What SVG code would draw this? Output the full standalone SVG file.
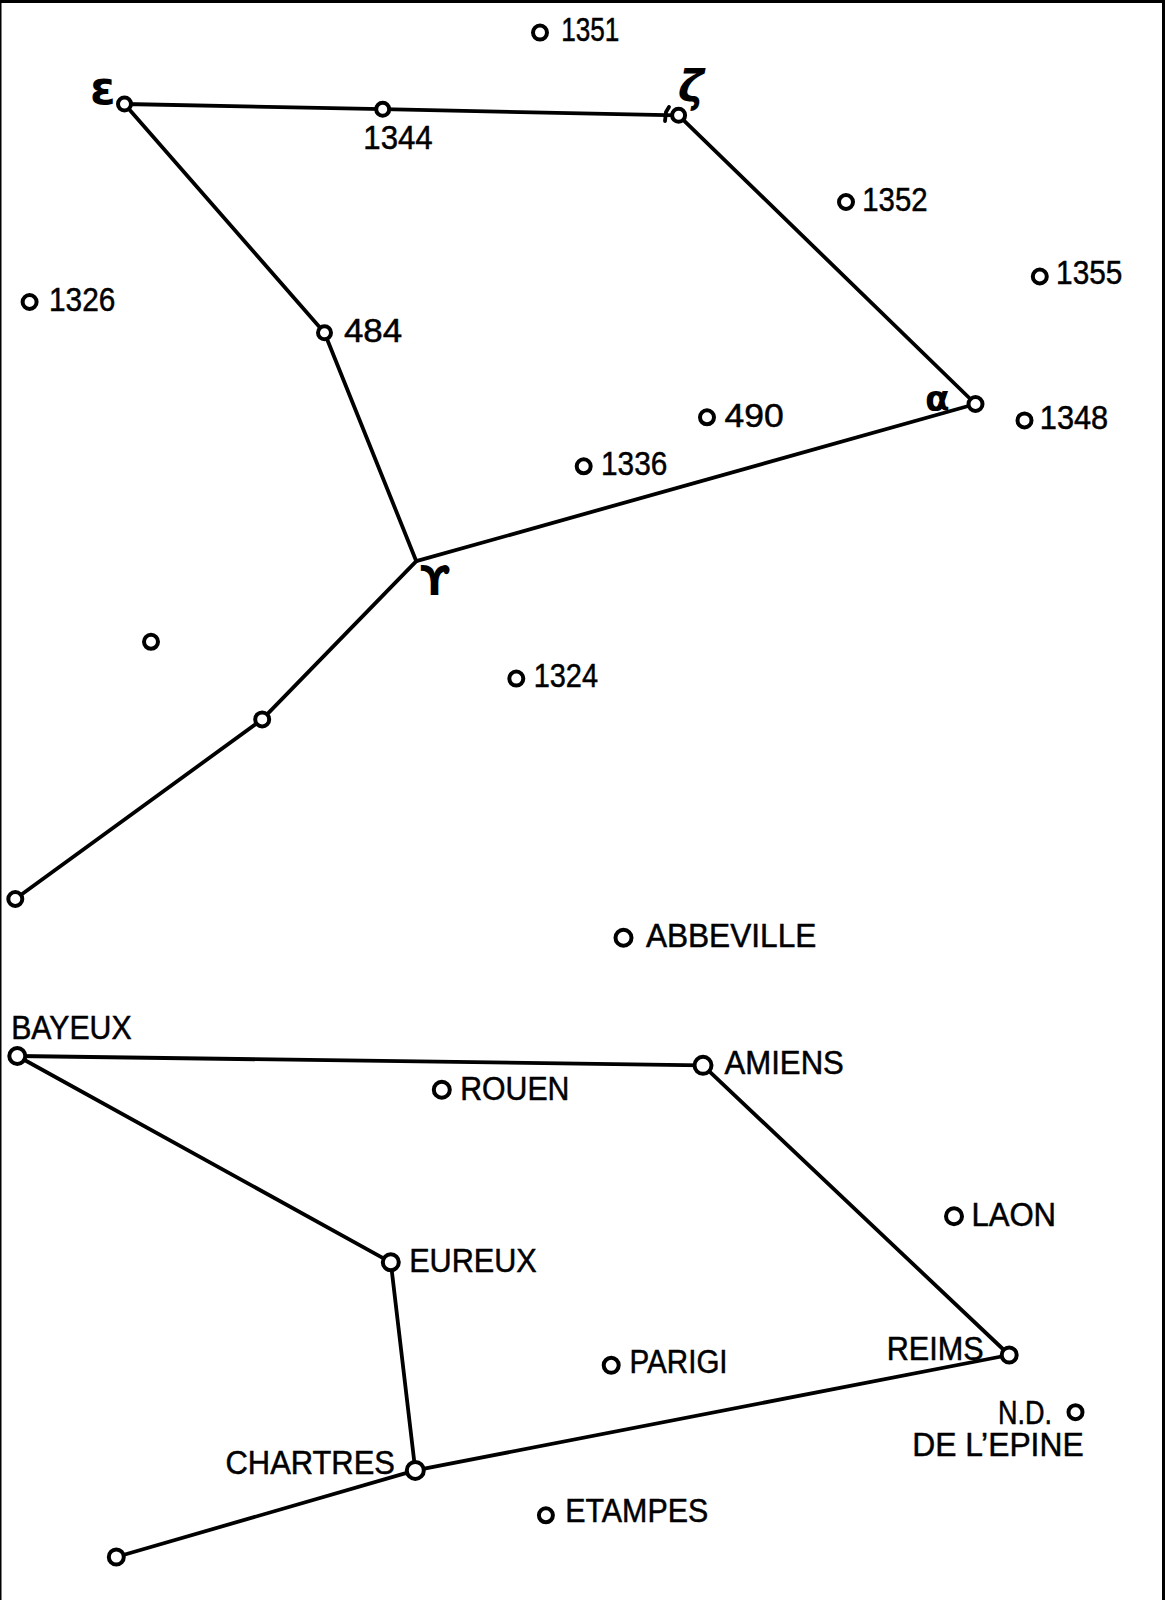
<svg xmlns="http://www.w3.org/2000/svg" width="1165" height="1600" viewBox="0 0 1165 1600">
<style>
.c{fill:none;stroke:#000;stroke-width:3.8;stroke-linejoin:round;stroke-linecap:round}
.n{fill:#fff;stroke:#000;stroke-width:4}
.t{font-family:"Liberation Sans",Arial,sans-serif;font-size:32.500px;fill:#000;stroke:#000;stroke-width:.5}
.s{font-family:"DejaVu Sans",sans-serif;font-weight:bold;fill:#000}
</style>
<rect width="1165" height="1600" fill="#fff"/>
<g id="frame" fill="#000"><rect x="0" y="0" width="1165" height="3"/><rect x="1162" y="0" width="3" height="1600"/><rect x="0" y="0" width="1.500" height="1600"/></g>
<g id="connectors">
<path class="c" d="M124.500 104L382.700 109.200L678.600 115.300L975.500 404L416.300 561.200L324.500 332.700L124.500 104"/>
<path class="c" d="M416.300 561.200L262.200 719.400L15.300 899"/>
<path class="c" d="M669 107L666 112L665 121"/>
<path class="c" d="M17.300 1056L703 1065.300L1009.200 1355L415.300 1470.400L116.300 1557"/>
<path class="c" d="M17.300 1056L390.800 1262.300L415.300 1470.400"/>
</g>
<g id="n-epsilon"><circle class="n" cx="124.500" cy="104" r="6.500"/><text class="s" x="90" y="104" font-size="46">ε</text></g>
<g id="n-1344"><circle class="n" cx="382.700" cy="109.200" r="6.500"/><text class="t" x="363.300" y="149" textLength="69.400" lengthAdjust="spacingAndGlyphs">1344</text></g>
<g id="n-zeta"><circle class="n" cx="678.600" cy="115.300" r="6.500"/><text class="s" x="678" y="102" font-size="44" font-style="italic">ζ</text></g>
<g id="n-alpha"><circle class="n" cx="975.500" cy="404" r="7"/><text class="s" x="925" y="411" font-size="36">α</text></g>
<g id="n-484"><circle class="n" cx="324.500" cy="332.700" r="6.500"/><text class="t" x="343.900" y="342" textLength="58.200" lengthAdjust="spacingAndGlyphs">484</text></g>
<g id="n-gamma"><text class="s" x="420" y="595" font-size="40">ϒ</text></g>
<g id="n-lower1"><circle class="n" cx="262.200" cy="719.400" r="7"/></g>
<g id="n-lower2"><circle class="n" cx="15.300" cy="899" r="7"/></g>
<g id="n-free"><circle class="n" cx="151" cy="641.800" r="7"/></g>
<g id="n-1351"><circle class="n" cx="540" cy="32.600" r="7"/><text class="t" x="561.200" y="41" textLength="58.200" lengthAdjust="spacingAndGlyphs">1351</text></g>
<g id="n-1352"><circle class="n" cx="846" cy="202" r="7"/><text class="t" x="862.300" y="211.200" textLength="65.300" lengthAdjust="spacingAndGlyphs">1352</text></g>
<g id="n-1355"><circle class="n" cx="1039.800" cy="276.500" r="7"/><text class="t" x="1056.100" y="283.700" textLength="66.300" lengthAdjust="spacingAndGlyphs">1355</text></g>
<g id="n-1348"><circle class="n" cx="1024.500" cy="420.400" r="7"/><text class="t" x="1039.800" y="428.600" textLength="68.400" lengthAdjust="spacingAndGlyphs">1348</text></g>
<g id="n-490"><circle class="n" cx="707" cy="417.300" r="7"/><text class="t" x="724.500" y="426.600" textLength="59.200" lengthAdjust="spacingAndGlyphs">490</text></g>
<g id="n-1336"><circle class="n" cx="583.700" cy="466.300" r="7"/><text class="t" x="601" y="474.500" textLength="66.300" lengthAdjust="spacingAndGlyphs">1336</text></g>
<g id="n-1326"><circle class="n" cx="29.600" cy="302" r="7"/><text class="t" x="49" y="311.200" textLength="66.300" lengthAdjust="spacingAndGlyphs">1326</text></g>
<g id="n-1324"><circle class="n" cx="516.300" cy="678.600" r="7"/><text class="t" x="533.700" y="686.800" textLength="64.300" lengthAdjust="spacingAndGlyphs">1324</text></g>
<g id="n-abbeville"><circle class="n" cx="623.500" cy="937.800" r="8"/><text class="t" x="645.900" y="947" textLength="170.400" lengthAdjust="spacingAndGlyphs">ABBEVILLE</text></g>
<g id="n-bayeux"><circle class="n" cx="17.300" cy="1056" r="8"/><text class="t" x="11.200" y="1039" textLength="120.400" lengthAdjust="spacingAndGlyphs">BAYEUX</text></g>
<g id="n-amiens"><circle class="n" cx="703" cy="1065.300" r="8.500"/><text class="t" x="724.500" y="1073.500" textLength="119.400" lengthAdjust="spacingAndGlyphs">AMIENS</text></g>
<g id="n-rouen"><circle class="n" cx="441.800" cy="1089.800" r="8"/><text class="t" x="460.200" y="1100" textLength="109.200" lengthAdjust="spacingAndGlyphs">ROUEN</text></g>
<g id="n-laon"><circle class="n" cx="954" cy="1216.300" r="8"/><text class="t" x="971.400" y="1225.600" textLength="84.700" lengthAdjust="spacingAndGlyphs">LAON</text></g>
<g id="n-eureux"><circle class="n" cx="390.800" cy="1262.300" r="8"/><text class="t" x="409.200" y="1272" textLength="127.600" lengthAdjust="spacingAndGlyphs">EUREUX</text></g>
<g id="n-parigi"><circle class="n" cx="611.200" cy="1365.300" r="7.500"/><text class="t" x="629.600" y="1372.500" textLength="98" lengthAdjust="spacingAndGlyphs">PARIGI</text></g>
<g id="n-reims"><circle class="n" cx="1009.200" cy="1355" r="7.500"/><text class="t" x="886.700" y="1359.500" textLength="96.900" lengthAdjust="spacingAndGlyphs">REIMS</text></g>
<g id="n-epine"><circle class="n" cx="1075.500" cy="1412.200" r="7"/><text class="t" x="998" y="1423.500" textLength="54" lengthAdjust="spacingAndGlyphs">N.D.</text><text class="t" x="912.200" y="1456" textLength="171.400" lengthAdjust="spacingAndGlyphs">DE L’EPINE</text></g>
<g id="n-chartres"><circle class="n" cx="415.300" cy="1470.400" r="8.500"/><text class="t" x="225.500" y="1473.500" textLength="169.400" lengthAdjust="spacingAndGlyphs">CHARTRES</text></g>
<g id="n-etampes"><circle class="n" cx="545.900" cy="1515.300" r="7"/><text class="t" x="565.300" y="1521.500" textLength="142.900" lengthAdjust="spacingAndGlyphs">ETAMPES</text></g>
<g id="n-south"><circle class="n" cx="116.300" cy="1557" r="7.500"/></g>
</svg>
